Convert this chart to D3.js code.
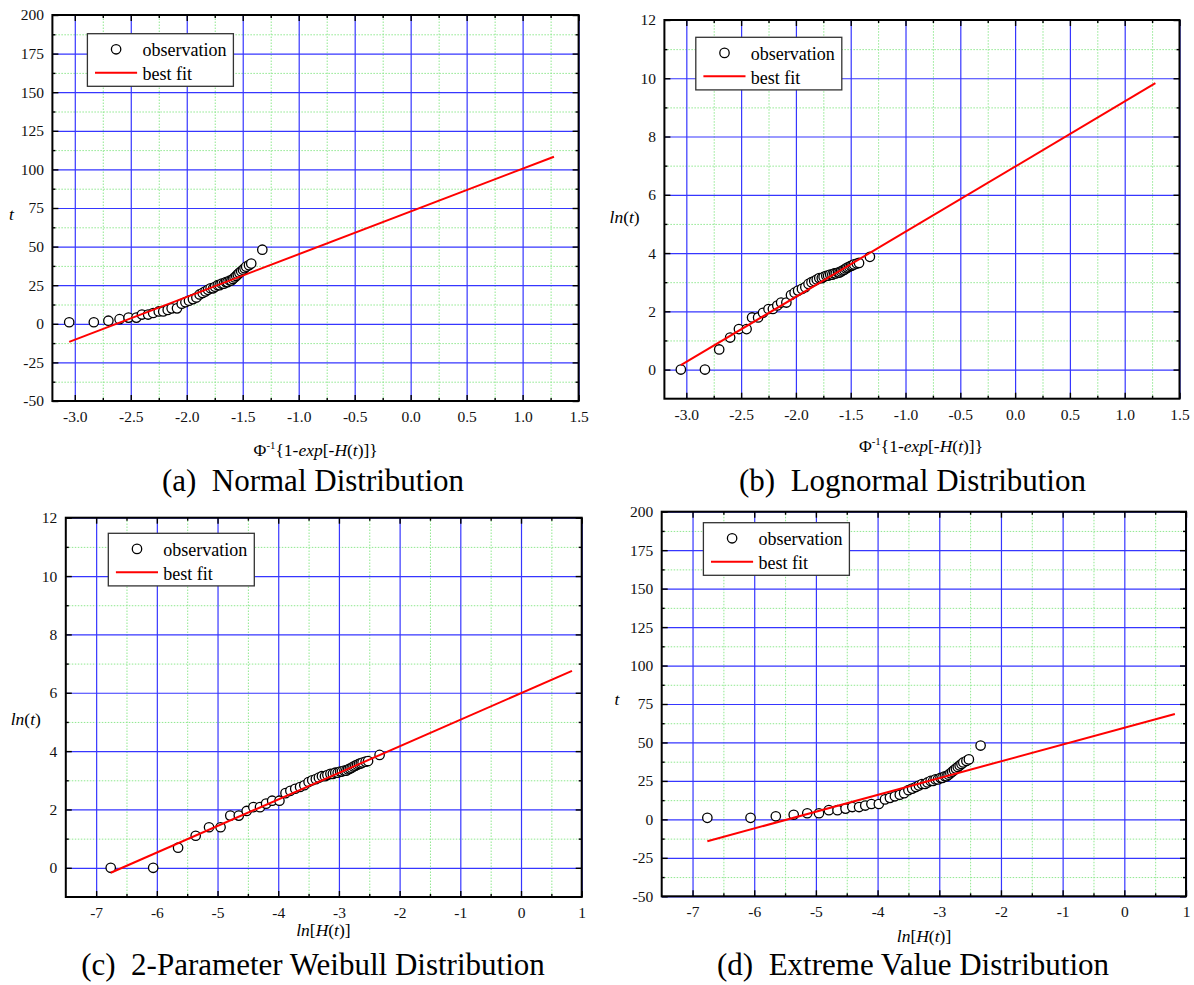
<!DOCTYPE html>
<html>
<head>
<meta charset="utf-8">
<script src="https://cdn.jsdelivr.net/npm/d3@7"></script>
<style>
  body { margin: 0; background: #fff; }
  svg { display: block; font-family: "Liberation Serif", "Times New Roman", serif; }
  .grid-major line { stroke: #3636ff; stroke-width: 1.2; }
  .grid-minor line { stroke: #8fe88f; stroke-width: 1; stroke-dasharray: 1.5,1.5; }
  .ticks line { stroke: #000; stroke-width: 1.4; }
  .ticks text { font-size: 15.5px; fill: #111; }
</style>
</head>
<body>
<svg id="chart" width="1194" height="985"></svg>
<script>
const tObs = [1, 1, 2, 3, 4, 4, 6, 6, 7, 8,
  8, 9, 10, 10, 13, 14, 15, 16, 17, 19,
  20, 21, 22, 23, 23, 24, 25, 25, 26, 26,
  27, 27, 28, 28, 29, 30, 31, 32, 33, 34,
  35, 36, 37, 38, 39, 48];
const lnTObs = [0, 0, 0.69, 1.10, 1.39, 1.39, 1.79, 1.79, 1.95, 2.08,
  2.08, 2.20, 2.30, 2.30, 2.56, 2.64, 2.71, 2.77, 2.83, 2.94,
  3.00, 3.04, 3.09, 3.14, 3.14, 3.18, 3.22, 3.22, 3.26, 3.26,
  3.30, 3.30, 3.33, 3.33, 3.37, 3.40, 3.43, 3.47, 3.50, 3.53,
  3.56, 3.58, 3.61, 3.64, 3.66, 3.87];
// x for (a),(b): inverse normal of 1-exp[-H(t)]
const phiObs = [-3.05, -2.83, -2.70, -2.60, -2.52, -2.45, -2.40, -2.345, -2.30, -2.25,
  -2.21, -2.17, -2.135, -2.087, -2.045, -2.012, -1.98, -1.945, -1.914, -1.885,
  -1.858, -1.833, -1.81, -1.787, -1.764, -1.747, -1.723, -1.706, -1.687, -1.668,
  -1.65, -1.636, -1.616, -1.602, -1.588, -1.573, -1.558, -1.544, -1.53, -1.514,
  -1.498, -1.484, -1.469, -1.444, -1.424, -1.325];
// x for (c),(d): ln[H(t)]
const lnHObs = [-6.76, -6.06, -5.65, -5.36, -5.14, -4.95, -4.79, -4.65, -4.52, -4.41,
  -4.30, -4.20, -4.10, -3.98, -3.88, -3.80, -3.72, -3.64, -3.57, -3.50,
  -3.44, -3.38, -3.33, -3.28, -3.23, -3.19, -3.14, -3.10, -3.06, -3.02,
  -2.98, -2.95, -2.91, -2.88, -2.85, -2.82, -2.79, -2.76, -2.73, -2.70,
  -2.67, -2.64, -2.61, -2.56, -2.52, -2.33];

// best fit lines (end points)
const fitNormalX = [-3.05, 1.28], fitNormalY = [-11.7, 108.2];
const fitLognormalX = [-3.05, 1.28], fitLognormalY = [0.15, 9.83];
const fitWeibullX = [-6.76, 0.84], fitWeibullY = [-0.17, 6.75];
const fitExtremeX = [-6.76, 0.82], fitExtremeY = [-14.2, 68.5];

// ticks
const phiTicks = [-3.0, -2.5, -2.0, -1.5, -1.0, -0.5, 0.0, 0.5, 1.0, 1.5];
const phiMinor = [-2.75, -2.25, -1.75, -1.25, -0.75, -0.25, 0.25, 0.75, 1.25];
const lnHTicks = [-7, -6, -5, -4, -3, -2, -1, 0, 1];
const lnHMinor = [-6.5, -5.5, -4.5, -3.5, -2.5, -1.5, -0.5, 0.5];
const tTicks = [-50, -25, 0, 25, 50, 75, 100, 125, 150, 175, 200];
const tMinor = [-37.5, -12.5, 12.5, 37.5, 62.5, 87.5, 112.5, 137.5, 162.5, 187.5];
const lnTTicks = [0, 2, 4, 6, 8, 10, 12];
const lnTMinor = [1, 3, 5, 7, 9, 11];

const svg = d3.select("#chart");

const phiTitle = [["Φ"], ["-1", "sup"], ["{1-"], ["exp", "it"], ["[-"], ["H", "it"], ["("], ["t", "it"], [")]}"]];
const lnHTitle = [["ln", "it"], ["["], ["H", "it"], ["("], ["t", "it"], [")]"]];
const lnTTitle = [["ln", "it"], ["("], ["t", "it"], [")"]];
const tTitle = [["t", "it"]];

const panels = [
  { box: [52.4, 15, 578.6, 401], xDomain: [-3.2, 1.5], yDomain: [-50, 200],
    xTicks: phiTicks, xMinor: phiMinor, yTicks: tTicks, yMinor: tMinor, xFmt: d => d.toFixed(1),
    xs: phiObs, ys: tObs, fitX: fitNormalX, fitY: fitNormalY, legend: [35, 18.7],
    xTitle: phiTitle, xTitlePos: [315.7, 456], yTitle: tTitle, yTitlePos: [11.5, 220],
    caption: "(a)  Normal Distribution", capPos: [313, 491] },
  { box: [664.4, 20, 1179.5, 398.7], xDomain: [-3.2, 1.5], yDomain: [-1, 12],
    xTicks: phiTicks, xMinor: phiMinor, yTicks: lnTTicks, yMinor: lnTMinor, xFmt: d => d.toFixed(1),
    xs: phiObs, ys: lnTObs, fitX: fitLognormalX, fitY: fitLognormalY, legend: [31.4, 17.3],
    xTitle: phiTitle, xTitlePos: [921, 452], yTitle: lnTTitle, yTitlePos: [624.6, 223],
    caption: "(b)  Lognormal Distribution", capPos: [912.5, 491] },
  { box: [65.8, 517.7, 581.7, 897], xDomain: [-7.5, 1], yDomain: [-1, 12],
    xTicks: lnHTicks, xMinor: lnHMinor, yTicks: lnTTicks, yMinor: lnTMinor, xFmt: d => String(d),
    xs: lnHObs, ys: lnTObs, fitX: fitWeibullX, fitY: fitWeibullY, legend: [42.5, 15.6],
    xTitle: lnHTitle, xTitlePos: [323.4, 936], yTitle: lnTTitle, yTitlePos: [25.8, 725],
    caption: "(c)  2-Parameter Weibull Distribution", capPos: [313, 975] },
  { box: [661.7, 511.7, 1186, 896.3], xDomain: [-7.5, 1], yDomain: [-50, 200],
    xTicks: lnHTicks, xMinor: lnHMinor, yTicks: tTicks, yMinor: tMinor, xFmt: d => String(d),
    xs: lnHObs, ys: tObs, fitX: fitExtremeX, fitY: fitExtremeY, legend: [41.7, 11],
    xTitle: lnHTitle, xTitlePos: [924, 942], yTitle: tTitle, yTitlePos: [617, 705],
    caption: "(d)  Extreme Value Distribution", capPos: [913, 975] }
];

panels.forEach(drawPanel);

// writes mixed italic / superscript text into a <text>
function richText(text, parts, size) {
  let up = false;
  parts.forEach(([s, kind]) => {
    const ts = text.append("tspan").text(s);
    if (kind === "it") ts.attr("font-style", "italic");
    if (kind === "sup") {
      ts.attr("font-size", size * 0.62).attr("dy", -size * 0.42);
      up = true;
    } else if (up) {
      ts.attr("dy", size * 0.42);
      up = false;
    }
  });
}

function cleanAxis(s) {
  s.select(".domain").remove();
  s.attr("font-size", null).attr("font-family", null);
}

function drawPanel(p) {
  const [x0, y0, x1, y1] = p.box;
  const w = x1 - x0, h = y1 - y0;
  const g = svg.append("g").attr("transform", `translate(${x0},${y0})`);

  const x = d3.scaleLinear().domain(p.xDomain).range([0, w]);
  const y = d3.scaleLinear().domain(p.yDomain).range([h, 0]);

  // grid lines
  g.append("g").attr("class", "grid-minor").attr("transform", `translate(0,${h})`)
    .call(d3.axisBottom(x).tickValues(p.xMinor).tickSize(-h).tickFormat(""))
    .call(cleanAxis);
  g.append("g").attr("class", "grid-minor")
    .call(d3.axisLeft(y).tickValues(p.yMinor).tickSize(-w).tickFormat(""))
    .call(cleanAxis);
  g.append("g").attr("class", "grid-major").attr("transform", `translate(0,${h})`)
    .call(d3.axisBottom(x).tickValues(p.xTicks).tickSize(-h).tickFormat(""))
    .call(cleanAxis);
  g.append("g").attr("class", "grid-major")
    .call(d3.axisLeft(y).tickValues(p.yTicks).tickSize(-w).tickFormat(""))
    .call(cleanAxis);

  // observations
  const pts = p.xs.map((v, i) => [v, p.ys[i]]);
  g.append("g").selectAll("circle").data(pts).join("circle")
    .attr("cx", d => x(d[0]))
    .attr("cy", d => y(d[1]))
    .attr("r", 4.7)
    .attr("fill", "#fff")
    .attr("stroke", "#000")
    .attr("stroke-width", 1.3);

  // best fit
  const line = d3.line().x(d => x(d[0])).y(d => y(d[1]));
  g.append("path")
    .attr("d", line(p.fitX.map((v, i) => [v, p.fitY[i]])))
    .attr("fill", "none")
    .attr("stroke", "#f00")
    .attr("stroke-width", 2);

  // inward ticks on all four sides
  g.append("g").attr("class", "ticks").attr("transform", `translate(0,${h})`)
    .call(d3.axisBottom(x).tickValues(p.xTicks).tickSize(-6).tickPadding(10).tickFormat(p.xFmt))
    .call(cleanAxis);
  g.append("g").attr("class", "ticks").attr("transform", `translate(0,${h})`)
    .call(d3.axisBottom(x).tickValues(p.xMinor).tickSize(-3).tickFormat(""))
    .call(cleanAxis);
  g.append("g").attr("class", "ticks")
    .call(d3.axisTop(x).tickValues(p.xTicks).tickSize(-6).tickFormat(""))
    .call(cleanAxis);
  g.append("g").attr("class", "ticks")
    .call(d3.axisTop(x).tickValues(p.xMinor).tickSize(-3).tickFormat(""))
    .call(cleanAxis);
  g.append("g").attr("class", "ticks")
    .call(d3.axisLeft(y).tickValues(p.yTicks).tickSize(-6).tickPadding(8.5).tickFormat(d => String(d)))
    .call(cleanAxis);
  g.append("g").attr("class", "ticks")
    .call(d3.axisLeft(y).tickValues(p.yMinor).tickSize(-3).tickFormat(""))
    .call(cleanAxis);
  g.append("g").attr("class", "ticks").attr("transform", `translate(${w},0)`)
    .call(d3.axisRight(y).tickValues(p.yTicks).tickSize(-6).tickFormat(""))
    .call(cleanAxis);
  g.append("g").attr("class", "ticks").attr("transform", `translate(${w},0)`)
    .call(d3.axisRight(y).tickValues(p.yMinor).tickSize(-3).tickFormat(""))
    .call(cleanAxis);

  // frame
  g.append("rect")
    .attr("width", w).attr("height", h)
    .attr("fill", "none").attr("stroke", "#000").attr("stroke-width", 2);

  // legend
  const lg = g.append("g").attr("transform", `translate(${p.legend[0]},${p.legend[1]})`);
  lg.append("rect").attr("width", 146).attr("height", 52.6)
    .attr("fill", "#fff").attr("stroke", "#333").attr("stroke-width", 1.3);
  lg.append("circle").attr("cx", 28.7).attr("cy", 15.6).attr("r", 4.7)
    .attr("fill", "#fff").attr("stroke", "#000").attr("stroke-width", 1.3);
  lg.append("line").attr("x1", 7.6).attr("x2", 49.7).attr("y1", 39).attr("y2", 39)
    .attr("stroke", "#f00").attr("stroke-width", 2);
  lg.append("text").attr("x", 55).attr("y", 22.3).attr("font-size", 18).text("observation");
  lg.append("text").attr("x", 55).attr("y", 46.3).attr("font-size", 18).text("best fit");

  // axis titles and caption
  const xt = svg.append("text").attr("x", p.xTitlePos[0]).attr("y", p.xTitlePos[1])
    .attr("text-anchor", "middle").attr("font-size", 17.5);
  richText(xt, p.xTitle, 17.5);
  const yt = svg.append("text").attr("x", p.yTitlePos[0]).attr("y", p.yTitlePos[1])
    .attr("text-anchor", "middle").attr("font-size", 17.5);
  richText(yt, p.yTitle, 17.5);
  svg.append("text").attr("x", p.capPos[0]).attr("y", p.capPos[1])
    .attr("text-anchor", "middle").attr("font-size", 31)
    .style("white-space", "pre")
    .text(p.caption);
}
</script>
</body>
</html>
